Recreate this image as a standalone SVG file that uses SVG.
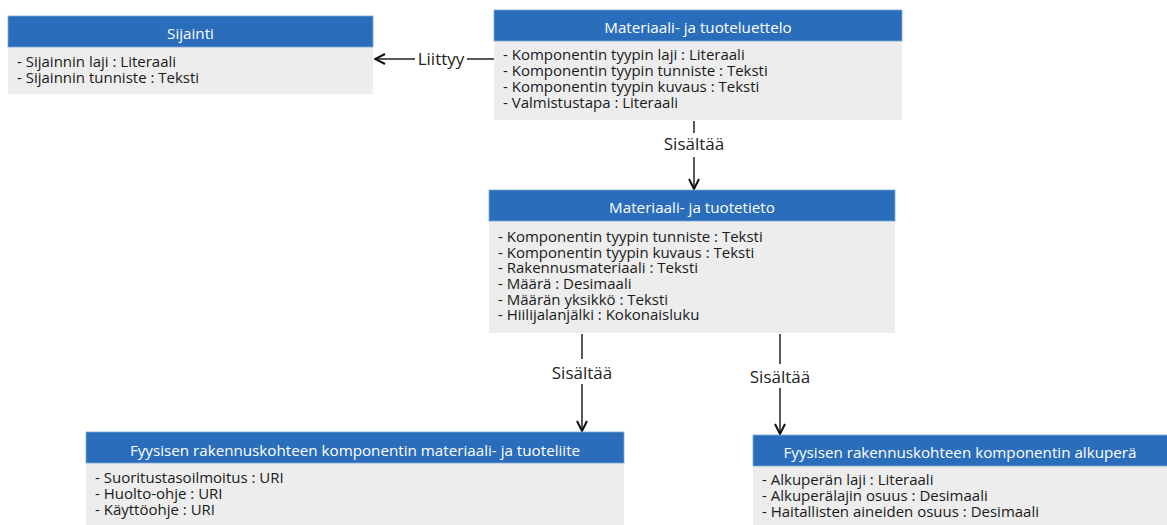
<svg xmlns="http://www.w3.org/2000/svg" width="1167" height="525" viewBox="0 0 1167 525">
<style>
.hd{fill:#2a6dbb;stroke:#7fa8d8;stroke-width:0.8}
.bd{fill:#ededed}
.ht{font-family:"Open Sans","Noto Sans",sans-serif;font-size:15.2px;fill:#ffffff;text-anchor:middle}
.at{font-family:"Open Sans","Noto Sans",sans-serif;font-size:15px;fill:#1a1a1a}
.lb{font-family:"Open Sans","Noto Sans",sans-serif;font-size:17px;fill:#222;text-anchor:middle}
.cn{stroke:#222;stroke-width:1.5;fill:none}
</style>
<defs>
<marker id="ah" viewBox="0 0 12 12" refX="11" refY="6" markerWidth="12" markerHeight="12" markerUnits="userSpaceOnUse" orient="auto">
<path d="M1,1 L11,6 L1,11" fill="none" stroke="#111" stroke-width="2"/>
</marker>
</defs>
<rect width="1167" height="525" fill="#ffffff"/>
<g id="connectors">
<line class="cn" x1="494" y1="59" x2="467" y2="59"/>
<line class="cn" x1="415" y1="59" x2="375" y2="59" marker-end="url(#ah)"/>
<text class="lb" x="441" y="65">Liittyy</text>
<line class="cn" x1="694" y1="121" x2="694" y2="133"/>
<line class="cn" x1="694" y1="157" x2="694" y2="189" marker-end="url(#ah)"/>
<text class="lb" x="694" y="150">Sisältää</text>
<line class="cn" x1="582" y1="334" x2="582" y2="359"/>
<line class="cn" x1="582" y1="384" x2="582" y2="431" marker-end="url(#ah)"/>
<text class="lb" x="582" y="379">Sisältää</text>
<line class="cn" x1="780" y1="334" x2="780" y2="364"/>
<line class="cn" x1="780" y1="388" x2="780" y2="434" marker-end="url(#ah)"/>
<text class="lb" x="780" y="383">Sisältää</text>
</g>
<g id="sijainti">
<rect class="bd" x="8" y="47" width="365" height="47"/>
<rect class="hd" x="8" y="16" width="365" height="31"/>
<text class="ht" x="190.5" y="39">Sijainti</text>
<text class="at" x="17" y="67">- Sijainnin laji : Literaali</text>
<text class="at" x="17" y="83">- Sijainnin tunniste : Teksti</text>
</g>
<g id="luettelo">
<rect class="bd" x="494" y="41" width="408" height="79"/>
<rect class="hd" x="494" y="10" width="408" height="31"/>
<text class="ht" x="698" y="33">Materiaali- ja tuoteluettelo</text>
<text class="at" x="503" y="60">- Komponentin tyypin laji : Literaali</text>
<text class="at" x="503" y="76">- Komponentin tyypin tunniste : Teksti</text>
<text class="at" x="503" y="92">- Komponentin tyypin kuvaus : Teksti</text>
<text class="at" x="503" y="108">- Valmistustapa : Literaali</text>
</g>
<g id="tuotetieto">
<rect class="bd" x="489" y="221" width="406" height="112"/>
<rect class="hd" x="489" y="190" width="406" height="31"/>
<text class="ht" x="692" y="213">Materiaali- ja tuotetieto</text>
<text class="at" x="498" y="242">- Komponentin tyypin tunniste : Teksti</text>
<text class="at" x="498" y="258">- Komponentin tyypin kuvaus : Teksti</text>
<text class="at" x="498" y="273">- Rakennusmateriaali : Teksti</text>
<text class="at" x="498" y="289">- Määrä : Desimaali</text>
<text class="at" x="498" y="305">- Määrän yksikkö : Teksti</text>
<text class="at" x="498" y="320">- Hiilijalanjälki : Kokonaisluku</text>
</g>
<g id="tuoteliite">
<rect class="bd" x="86" y="463" width="538" height="62"/>
<rect class="hd" x="86" y="432" width="538" height="31"/>
<text class="ht" x="355" y="456">Fyysisen rakennuskohteen komponentin materiaali- ja tuoteliite</text>
<text class="at" x="95" y="483">- Suoritustasoilmoitus : URI</text>
<text class="at" x="95" y="499">- Huolto-ohje : URI</text>
<text class="at" x="95" y="515">- Käyttöohje : URI</text>
</g>
<g id="alkupera">
<rect class="bd" x="753" y="466" width="414" height="59"/>
<rect class="hd" x="753" y="435" width="416" height="31"/>
<text class="ht" x="960" y="458">Fyysisen rakennuskohteen komponentin alkuperä</text>
<text class="at" x="762" y="485">- Alkuperän laji : Literaali</text>
<text class="at" x="762" y="501">- Alkuperälajin osuus : Desimaali</text>
<text class="at" x="762" y="517">- Haitallisten aineiden osuus : Desimaali</text>
</g>
</svg>
